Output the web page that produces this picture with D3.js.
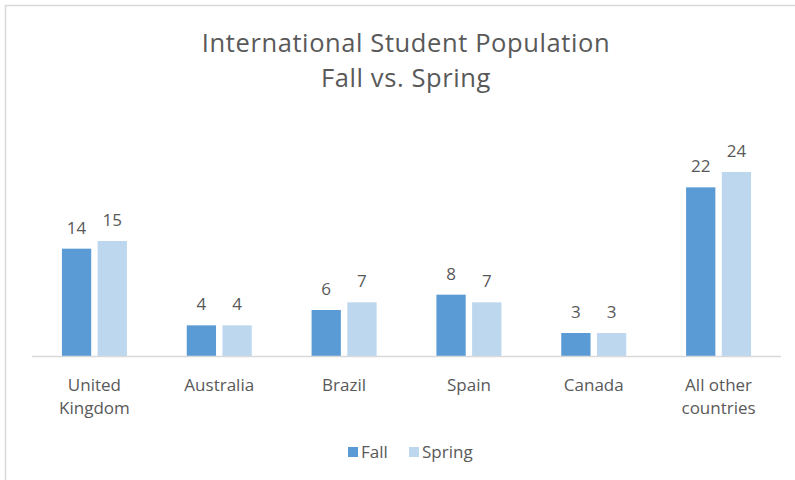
<!DOCTYPE html>
<html>
<head>
<meta charset="utf-8">
<script src="https://cdn.jsdelivr.net/npm/d3@7"></script>
<style>
  body { margin: 0; background: #fff; }
  svg text { font-family: "Open Sans", Lato, sans-serif; fill: #595959; }
</style>
</head>
<body>
<svg id="chart"></svg>
<script>
// chart data
const categories = ["United Kingdom", "Australia", "Brazil", "Spain", "Canada", "All other countries"];
const categoryLines = [["United", "Kingdom"], ["Australia"], ["Brazil"], ["Spain"], ["Canada"], ["All other", "countries"]];
const seriesNames = ["Fall", "Spring"];
const fallValues = [14, 4, 6, 8, 3, 22];
const springValues = [15, 4, 7, 7, 3, 24];
const colors = ["#5b9bd5", "#bdd7ee"];

const width = 795, height = 480;
const plot = {left: 32, right: 781, top: 126, bottom: 356};

const svg = d3.select("#chart")
    .attr("width", width)
    .attr("height", height);

// chart border (only top + left are in frame)
svg.append("rect")
    .attr("x", 5.5).attr("y", 5.5)
    .attr("width", 820).attr("height", 500)
    .attr("fill", "none")
    .attr("stroke", "#d9d9d9")
    .attr("stroke-width", 1.5);

const x0 = d3.scaleBand()
    .domain(categories)
    .range([plot.left, plot.right]);

const x1 = d3.scaleBand()
    .domain(seriesNames)
    .range([x0.bandwidth() / 2 - 32.5, x0.bandwidth() / 2 + 32.5])
    .paddingInner(0.18);

const y = d3.scaleLinear()
    .domain([0, 30])
    .range([plot.bottom, plot.top]);

// title
const title = svg.append("text")
    .attr("text-anchor", "middle")
    .style("font-size", "25.5px")
    .style("letter-spacing", "0.6px");
title.append("tspan").attr("x", 406).attr("y", 52).text("International Student Population");
title.append("tspan").attr("x", 406).attr("y", 87).text("Fall vs. Spring");

const rows = categories.map((c, i) => ({cat: c, vals: [fallValues[i], springValues[i]]}));

const groups = svg.selectAll("g.cat")
    .data(rows)
    .enter()
    .append("g")
    .attr("class", "cat")
    .attr("transform", d => `translate(${x0(d.cat)},0)`);

groups.selectAll("rect")
    .data(d => d.vals.map((v, j) => ({s: seriesNames[j], v: v, j: j})))
    .enter()
    .append("rect")
    .attr("x", d => x1(d.s))
    .attr("width", x1.bandwidth())
    .attr("y", d => y(d.v))
    .attr("height", d => y(0) - y(d.v))
    .attr("fill", d => colors[d.j]);

groups.selectAll("text.val")
    .data(d => d.vals.map((v, j) => ({s: seriesNames[j], v: v})))
    .enter()
    .append("text")
    .attr("class", "val")
    .attr("x", d => x1(d.s) + x1.bandwidth() / 2)
    .attr("y", d => y(d.v) - 15)
    .attr("text-anchor", "middle")
    .style("font-size", "17px")
    .text(d => d.v);

// axis line
svg.append("line")
    .attr("x1", plot.left).attr("x2", plot.right)
    .attr("y1", plot.bottom + 0.5).attr("y2", plot.bottom + 0.5)
    .attr("stroke", "#d9d9d9")
    .attr("stroke-width", 1.5);

// category labels
categoryLines.forEach((lines, i) => {
    const t = svg.append("text")
        .attr("text-anchor", "middle")
        .style("font-size", "17px");
    lines.forEach((ln, k) => {
        t.append("tspan")
            .attr("x", x0(categories[i]) + x0.bandwidth() / 2)
            .attr("y", 391 + k * 23)
            .text(ln);
    });
});

// legend
const legend = svg.append("g");
const legendX = [348, 409];
seriesNames.forEach((s, j) => {
    legend.append("rect")
        .attr("x", legendX[j]).attr("y", 447)
        .attr("width", 10).attr("height", 10)
        .attr("fill", colors[j]);
    legend.append("text")
        .attr("x", legendX[j] + 13).attr("y", 458)
        .style("font-size", "17px")
        .text(s);
});
</script>
</body>
</html>
